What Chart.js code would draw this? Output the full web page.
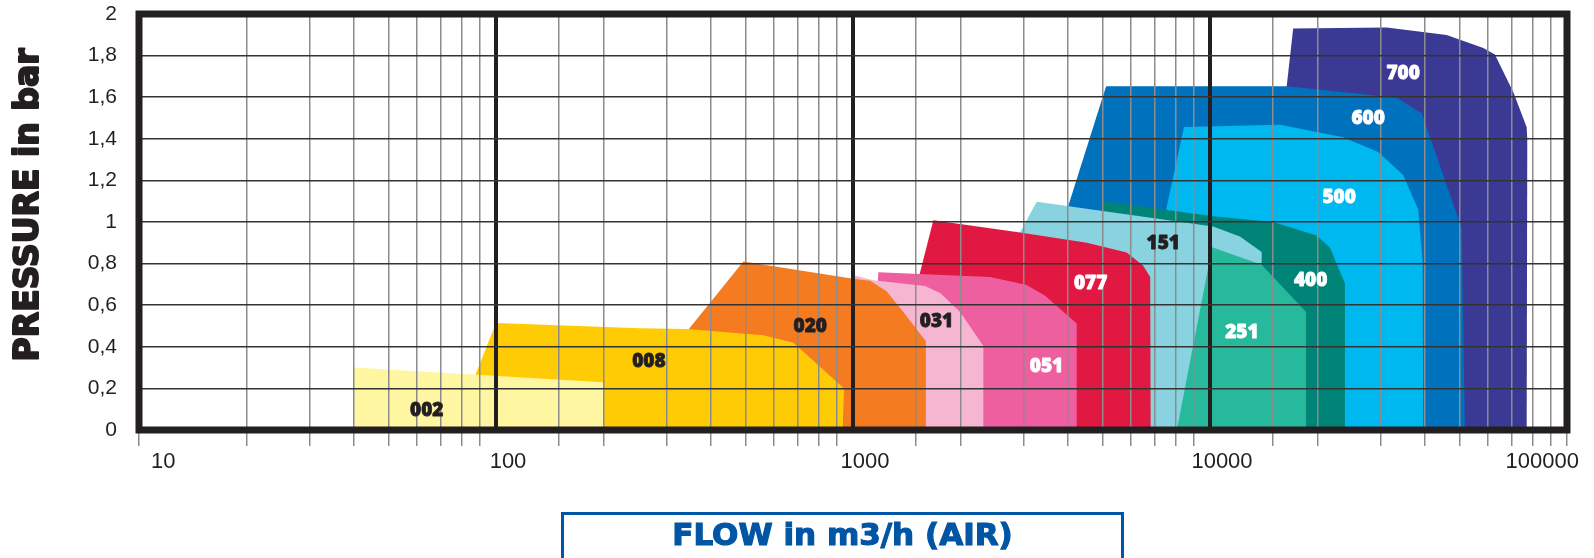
<!DOCTYPE html>
<html><head><meta charset="utf-8">
<script src="https://cdn.jsdelivr.net/npm/chart.js@4.4.1/dist/chart.umd.min.js"></script>
<style>
html,body{margin:0;padding:0;background:#fff;overflow:hidden;}
#wrap{position:relative;width:1594px;height:558px;}
#xtitle{position:absolute;left:561px;top:512px;width:563px;height:46px;box-sizing:border-box;border:3px solid #0055a5;border-bottom:none;color:#0055a5;font-family:"DejaVu Sans",sans-serif;font-weight:bold;font-size:31px;text-align:center;line-height:38px;white-space:nowrap;-webkit-text-stroke:1.2px #0055a5;}
</style></head><body>
<div id="wrap"><canvas id="c" width="1594" height="558"></canvas><div id="xtitle">FLOW in m3/h (AIR)</div></div>
<script>
// ---- data (flow m3/h, pressure bar) ----
const models = ['002','008','020','031','051','077','251','151','400','500','600','700'];
const shape002 = [[40,0],[40,0.30],[200,0.23],[200,0]];
const shape008 = [[76,0],[100,0.515],[253,0.489],[342,0.486],[560,0.455],[638,0.431],[681,0.419],[944,0.2],[935,0]];
const shape020 = [[205,0],[493,0.81],[1000,0.727],[1117,0.717],[1242,0.667],[1383,0.567],[1600,0.427],[1600,0]];
const shape031 = [[1000,0],[1000,0.745],[1140,0.72],[1591,0.692],[1754,0.659],[1996,0.567],[2318,0.404],[2318,0]];
const shape051 = [[1100,0],[1178,0.758],[2421,0.735],[3066,0.697],[3453,0.646],[4233,0.512],[4233,0]];
const shape077 = [[1190,0],[1679,1.008],[2938,0.95],[4521,0.9],[5845,0.853],[6500,0.79],[6800,0.735],[6820,0]];
const shape251 = [[8075,0],[10140,0.879],[13956,0.794],[18580,0.567],[18580,0]];
const shape151 = [[1460,0],[3271,1.097],[10200,0.978],[12130,0.93],[13956,0.856],[13956,0.797],[13956,0]];
const shape400 = [[4800,0],[5024,1.10],[10200,1.028],[15030,1.0],[19900,0.935],[21690,0.876],[23880,0.704],[23880,0]];
const shape500 = [[6210,0],[7555,1.069],[8454,1.457],[15710,1.468],[23600,1.408],[29570,1.336],[34750,1.226],[38300,1.06],[39400,0.81],[39550,0]];
const shape600 = [[2547,0],[4008,1.077],[5117,1.653],[16400,1.653],[33340,1.597],[39180,1.523],[50700,0.97],[51760,0]];
const shape700 = [[12850,0],[16400,1.653],[17100,1.930],[31260,1.935],[46000,1.899],[58300,1.836],[62800,1.805],[70800,1.622],[77100,1.456],[77400,1.40],[77100,0]];
const shapes = [shape002,shape008,shape020,shape031,shape051,shape077,shape251,shape151,shape400,shape500,shape600,shape700];
const labelFlow = [64,268,759,1714,3483,4632,12280,7397,19140,23000,27720,34750];
const labelPres = [0.093,0.331,0.496,0.523,0.303,0.704,0.466,0.896,0.72,1.118,1.497,1.715];
const xTickValues = [10,100,1000,10000,100000];
const xMajorLines = [100,1000,10000];
const yTickStep = 0.2;

// ---- styles ----
const fillColors = ['#fff6a1','#ffcb05','#f47b20','#f6b6d1','#ee5fa0','#e11841','#27b99b','#88d3df','#008477','#00b8f0','#0071bc','#3a3a95'];
const labelColors = ['#231f20','#231f20','#231f20','#231f20','#ffffff','#ffffff','#ffffff','#231f20','#ffffff','#ffffff','#ffffff','#ffffff'];
const ink = '#231f20';

const framePlugin = {
  id: 'frame',
  afterDraw(chart) {
    const {ctx, chartArea: a} = chart;
    ctx.save();
    ctx.strokeStyle = ink; ctx.lineWidth = 7;
    ctx.strokeRect(a.left, a.top, a.right - a.left, a.bottom - a.top);
    ctx.restore();
  }
};
const labelPlugin = {
  id: 'modelLabels',
  afterDraw(chart) {
    const {ctx} = chart; const xs = chart.scales.x, ys = chart.scales.y;
    ctx.save();
    ctx.font = '800 19px "Open Sans", sans-serif';
    ctx.textAlign = 'center'; ctx.textBaseline = 'middle';
    ctx.lineJoin = 'round';
    models.forEach((m, i) => {
      ctx.fillStyle = labelColors[i];
      ctx.strokeStyle = labelColors[i];
      ctx.lineWidth = 0.8;
      const px = xs.getPixelForValue(labelFlow[i]), py = ys.getPixelForValue(labelPres[i]);
      ctx.fillText(m, px, py);
      ctx.strokeText(m, px, py);
    });
    ctx.restore();
  }
};
const yTitlePlugin = {
  id: 'yTitle',
  afterDraw(chart) {
    const {ctx} = chart;
    ctx.save();
    ctx.translate(37.5, 205);
    ctx.rotate(-Math.PI / 2);
    ctx.font = 'bold 33px "DejaVu Sans", sans-serif';
    ctx.fillStyle = ink; ctx.strokeStyle = ink; ctx.lineWidth = 2; ctx.lineJoin = 'round';
    ctx.textAlign = 'center'; ctx.textBaseline = 'alphabetic';
    ctx.fillText('PRESSURE in bar', 0, 0);
    ctx.strokeText('PRESSURE in bar', 0, 0);
    ctx.restore();
  }
};

const datasets = models.map((m, i) => ({
  label: m,
  data: shapes[i].map(p => ({x: p[0], y: p[1]})),
  backgroundColor: fillColors[i],
  borderColor: fillColors[i],
  borderWidth: 0,
  pointRadius: 0,
  pointHoverRadius: 0,
  fill: 'shape',
  tension: 0,
  showLine: true
}));

new Chart(document.getElementById('c'), {
  type: 'line',
  data: {datasets},
  options: {
    responsive: false, animation: false, devicePixelRatio: 1,
    layout: {padding: {top: 14, right: 27, left: 0, bottom: 0}},
    plugins: {legend: {display: false}, tooltip: {enabled: false}, title: {display: false}},
    scales: {
      x: {
        type: 'logarithmic', min: 10, max: 100000,
        afterFit: s => { s.height = 128; s.paddingLeft = 0; s.paddingRight = 0; },
        border: {display: false},
        grid: {
          z: 1,
          color: c => xMajorLines.includes(c.tick && c.tick.value) ? ink : '#8c8c8c',
          lineWidth: c => xMajorLines.includes(c.tick && c.tick.value) ? 4 : 1.5,
          tickLength: 16,
          tickWidth: 1.5,
          tickColor: c => xMajorLines.includes(c.tick && c.tick.value) ? 'rgba(0,0,0,0)' : '#8c8c8c'
        },
        ticks: {
          autoSkip: false, maxRotation: 0, minRotation: 0,
          align: 'inner', labelOffset: 12, padding: 3,
          color: ink, font: {family: '"Liberation Sans", Arial, sans-serif', size: 22},
          callback: v => xTickValues.includes(v) ? String(v) : ''
        }
      },
      y: {
        min: 0, max: 2,
        afterFit: s => { s.width = 139; s.paddingTop = 0; s.paddingBottom = 0; },
        border: {display: false},
        grid: {z: 1, color: '#333333', lineWidth: 1.5, drawTicks: false},
        ticks: {
          stepSize: yTickStep, padding: 22, color: ink,
          font: {family: '"Liberation Sans", Arial, sans-serif', size: 21},
          callback: v => String(Math.round(v * 10) / 10).replace('.', ',')
        }
      }
    }
  },
  plugins: [framePlugin, labelPlugin, yTitlePlugin]
});
</script>
</body></html>
